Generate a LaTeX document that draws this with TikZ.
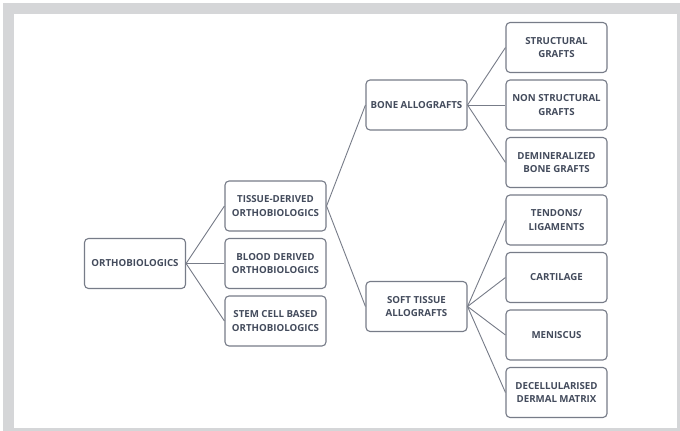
\documentclass[tikz,border=0pt]{standalone}
\usepackage{fontspec}
\setmainfont{Open Sans}

\definecolor{frame}{HTML}{D5D6D8}
\definecolor{edge}{HTML}{777C88}
\definecolor{ink}{HTML}{434B5C}

\begin{document}
\begin{tikzpicture}[x = 1pt, y = -1pt, align = center,
        box/.style = {draw = edge, line width = 1.1pt, rounded corners = 4pt, inner sep = 1pt,
            minimum width = 101pt, minimum height = 50pt, text = ink, font = \bfseries\fontsize{9.7}{13.3}\selectfont},
        link/.style = {draw = edge, line width = 0.9pt}]
    % frame
    \fill[white] (0, 0) rectangle (680, 431);
    \fill[frame] (3, 3) rectangle (680, 431);
    \fill[white] (14, 14) rectangle (677, 428);

    \node[box] (ortho) at (135, 263.5) {ORTHOBIOLOGICS};

    \node[box] (tissue) at (275.5, 206) {TISSUE-DERIVED \\ ORTHOBIOLOGICS};
    \node[box] (blood) at (275.5, 263.5) {BLOOD DERIVED \\ ORTHOBIOLOGICS};
    \node[box] (stem) at (275.5, 321) {STEM CELL BASED \\ ORTHOBIOLOGICS};

    \node[box] (bone) at (416.5, 105) {BONE ALLOGRAFTS};
    \node[box] (soft) at (416.5, 306.5) {SOFT TISSUE \\ ALLOGRAFTS};

    \node[box] (structural) at (556.5, 47.5) {STRUCTURAL \\ GRAFTS};
    \node[box] (nonstructural) at (556.5, 105) {NON STRUCTURAL \\ GRAFTS};
    \node[box] (demin) at (556.5, 162.5) {DEMINERALIZED \\ BONE GRAFTS};
    \node[box] (tendons) at (556.5, 220) {TENDONS/ \\ LIGAMENTS};
    \node[box] (cartilage) at (556.5, 277.5) {CARTILAGE};
    \node[box] (meniscus) at (556.5, 335) {MENISCUS};
    \node[box] (decell) at (556.5, 392.5) {DECELLULARISED \\ DERMAL MATRIX};

    \foreach \child in {tissue, blood, stem}
        \draw[link] (ortho.east) -- (\child.west);
    \foreach \child in {bone, soft}
        \draw[link] (tissue.east) -- (\child.west);
    \foreach \child in {structural, nonstructural, demin}
        \draw[link] (bone.east) -- (\child.west);
    \foreach \child in {tendons, cartilage, meniscus, decell}
        \draw[link] (soft.east) -- (\child.west);
\end{tikzpicture}
\end{document}
